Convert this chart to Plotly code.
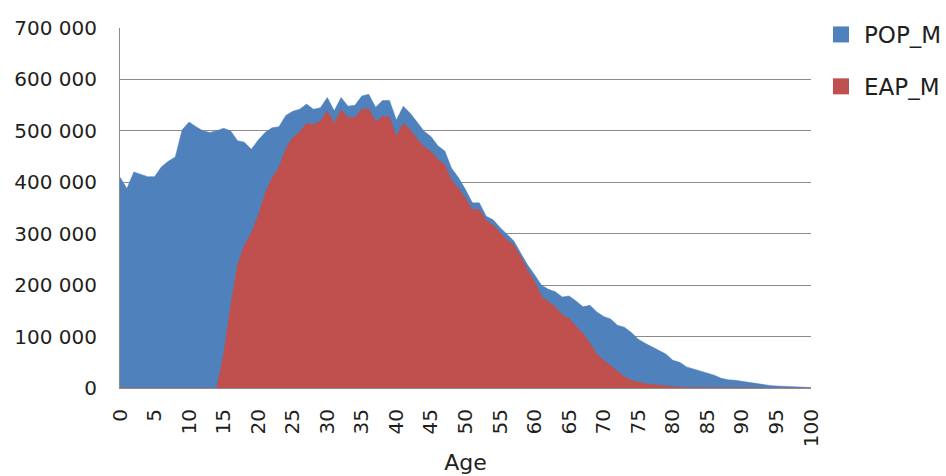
import plotly.graph_objects as go

ages = list(range(0, 101))

pop_m_k = [410, 388, 420, 415, 411, 411, 430, 441, 449, 502,
           517, 508, 500, 497, 500, 505, 500, 481, 478, 464,
           482, 497, 506, 508, 530, 538, 542, 552, 542, 545,
           565, 539, 565, 548, 550, 568, 571, 546, 559, 559,
           521, 548, 534, 517, 499, 489, 471, 461, 427, 409,
           386, 360, 360, 334, 327, 312, 299, 286, 262, 239,
           220, 200, 192, 187, 177, 179, 169, 158, 161, 148,
           139, 134, 122, 118, 108, 95, 87, 80, 73, 66,
           54, 50, 41, 37, 33, 28, 25, 19, 16, 15,
           13, 11, 8.4, 7, 5, 4, 3.2, 2.6, 2, 1.4,
           1]

eap_m_k = [0, 0, 0, 0, 0, 0, 0, 0, 0, 0,
           0, 0, 0, 0, 0, 66, 158, 239, 278, 301,
           336, 378, 409, 429, 465, 487, 498, 515, 512, 519,
           539, 515, 541, 526, 526, 542, 543, 518, 528, 527,
           489, 515, 502, 484, 469, 460, 445, 434, 404, 388,
           369, 347, 347, 325, 317, 302, 288, 278, 255, 229,
           207, 178, 168, 158, 142, 135, 120, 106, 87, 66,
           54, 43, 32, 22, 15, 11, 8.4, 7, 5.8, 4.5,
           2, 1.5, 1.2, 1.0, 0.8, 0.6, 0.5, 0.4, 0.3, 0.25,
           0.2, 0.15, 0.1, 0.1, 0.05, 0.05, 0.03, 0.02, 0.01, 0.01,
           0]

pop_m = [v * 1000 for v in pop_m_k]
eap_m = [v * 1000 for v in eap_m_k]

y_tickvals = [0, 100000, 200000, 300000, 400000, 500000, 600000, 700000]
y_ticktext = ["0", "100 000", "200 000", "300 000", "400 000", "500 000", "600 000", "700 000"]
x_tickvals = list(range(0, 101, 5))

BLUE = "#4F81BD"
RED = "#C0504D"
GRID = "#8C8C8C"
TEXT = "#231F20"
FONT = "DejaVu Sans"

fig = go.Figure()
fig.add_trace(go.Scatter(x=ages, y=pop_m, mode="lines", fill="tozeroy",
                         fillcolor=BLUE, line=dict(color=BLUE, width=0.5),
                         name="POP_M", showlegend=False, hoverinfo="skip"))
fig.add_trace(go.Scatter(x=ages, y=eap_m, mode="lines", fill="tozeroy",
                         fillcolor=RED, line=dict(color=RED, width=0.5),
                         name="EAP_M", showlegend=False, hoverinfo="skip"))
# legend entries (square swatches)
fig.add_trace(go.Scatter(x=[None], y=[None], mode="markers",
                         marker=dict(symbol="square", size=17, color=BLUE),
                         name="POP_M", legendgroup="a"))
fig.add_trace(go.Scatter(x=[None], y=[None], mode="markers",
                         marker=dict(symbol="square", size=17, color=RED),
                         name="EAP_M", legendgroup="b"))

fig.update_layout(
    width=946, height=476,
    margin=dict(l=120, r=135, t=28, b=88, autoexpand=False),
    paper_bgcolor="white", plot_bgcolor="white",
    font=dict(family=FONT, size=20, color=TEXT),
    showlegend=True,
    legend=dict(xref="container", yref="container", x=818/946, y=1-13/476,
                xanchor="left", yanchor="top", tracegroupgap=19,
                font=dict(family=FONT, size=23, color=TEXT),
                bgcolor="rgba(0,0,0,0)", borderwidth=0, itemwidth=36),
    xaxis=dict(range=[0, 100], tickmode="array", tickvals=x_tickvals,
               tickangle=-90, ticks="", showgrid=False, zeroline=False,
               showline=True, linecolor=GRID, linewidth=1, automargin=False,
               ticklabelstandoff=12,
               title=dict(text="Age", font=dict(family=FONT, size=22, color=TEXT), standoff=8)),
    yaxis=dict(range=[0, 700000], tickmode="array", tickvals=y_tickvals,
               ticktext=y_ticktext, ticks="", showgrid=True, gridcolor=GRID,
               gridwidth=1, zeroline=False, showline=True, linecolor=GRID,
               linewidth=1, ticklabelstandoff=18, automargin=False),
)

fig.write_html("out.html", config={"displayModeBar": False},
               post_script="document.body.style.margin='0';document.body.style.padding='0';")
